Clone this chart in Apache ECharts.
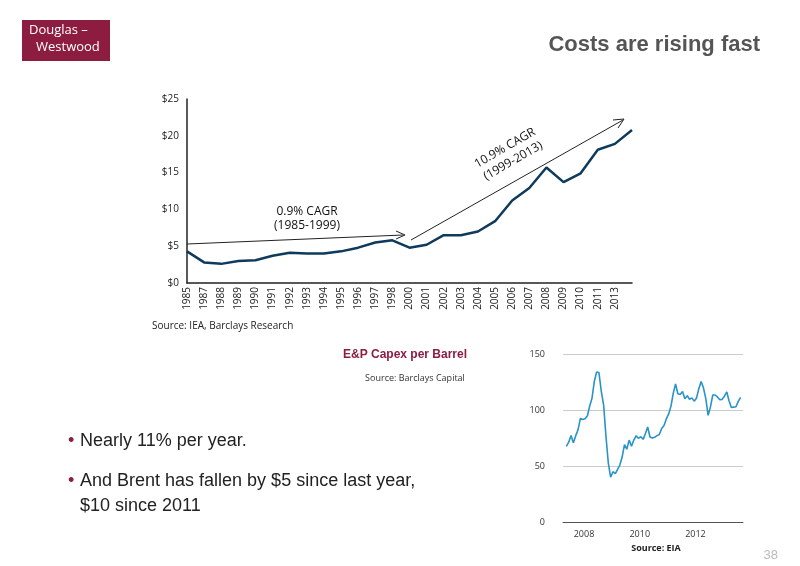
<!DOCTYPE html>
<html><head><meta charset="utf-8">
<script src="https://cdn.jsdelivr.net/npm/echarts@6/dist/echarts.min.js"></script>
<style>html,body{margin:0;padding:0;background:#fff}#c{width:800px;height:566px}</style>
</head><body><div id="c"></div>
<script>
const years = ['1985','1987','1988','1989','1990','1991','1992','1993','1994','1995','1996','1997','1998','2000','2001','2002','2003','2004','2005','2006','2007','2008','2009','2010','2011','2013',''];
const capex = [4.3,2.8,2.6,3.0,3.1,3.7,4.1,4.0,4.0,4.3,4.8,5.5,5.8,4.8,5.2,6.5,6.5,7.0,8.4,11.2,12.9,15.7,13.7,14.9,18.1,18.9,20.8];
const yTicks = ['$0','$5','$10','$15','$20','$25'];
const brentMonths = [];
(function(){let y=2007,m=5;for(let i=0;i<76;i++){brentMonths.push(y+'-'+String(m).padStart(2,'0')+'-15');m++;if(m>12){m=1;y++;}}})();
const brent = [67.5,71.3,77.2,70.8,77.1,82.3,92.5,91.5,
92.2,94.9,103.3,110.4,125.4,133.9,133.4,116.7,104.1,76.6,52.5,40.0,
44.9,43.1,46.8,50.9,58.0,69.1,65.0,73.1,67.7,73.2,77.0,74.7,
76.2,73.8,78.8,84.8,75.9,75.0,75.6,77.1,78.2,83.5,86.1,92.0,
96.5,103.7,114.6,123.3,114.5,113.9,116.5,110.1,112.8,109.6,110.8,107.9,
110.7,119.3,125.5,119.8,110.3,95.2,102.6,113.4,113.4,111.7,109.1,109.5,
112.3,116.1,108.5,102.3,102.6,102.9,107.7,111.3];

const chart = echarts.init(document.getElementById('c'));
const F = 'Open Sans';
chart.setOption({
  animation:false,
  grid:[{left:187,top:99,width:445,height:184},{left:563,top:354,width:180,height:168}],
  xAxis:[
    {type:'category',gridIndex:0,data:years,boundaryGap:false,
     axisLine:{lineStyle:{color:'#222',width:1.5}},axisTick:{show:false},
     axisLabel:{rotate:90,interval:0,fontSize:10,color:'#222',fontFamily:F,margin:4}},
    {type:'time',gridIndex:1,min:'2007-04-01',max:'2013-09-15',
     axisLine:{lineStyle:{color:'#555'}},axisTick:{show:false},splitLine:{show:false},
     axisLabel:{fontSize:9,color:'#333',fontFamily:F,formatter:v=>{const d=new Date(v);return (d.getMonth()===0&&d.getFullYear()%2===0)?String(d.getFullYear()):'';},interval:0},
     minInterval:365*24*3600*1000}
  ],
  yAxis:[
    {type:'value',gridIndex:0,min:0,max:25,interval:5,
     axisLine:{show:true,lineStyle:{color:'#222',width:1.5}},axisTick:{show:false},splitLine:{show:false},
     axisLabel:{fontSize:10,color:'#222',fontFamily:F,formatter:v=>yTicks[v/5]}},
    {type:'value',gridIndex:1,min:0,max:150,interval:50,
     axisLine:{show:false},axisTick:{show:false},
     splitLine:{lineStyle:{color:'#ccc'}},
     axisLabel:{fontSize:9,color:'#333',fontFamily:F,margin:18}}
  ],
  series:[
    {type:'line',xAxisIndex:0,yAxisIndex:0,data:capex,symbol:'none',lineStyle:{color:'#0e3a5c',width:2.5}},
    {type:'line',xAxisIndex:1,yAxisIndex:1,data:brentMonths.map((d,i)=>[d,brent[i]]),symbol:'none',lineStyle:{color:'#2a93c9',width:1.6}}
  ],
  graphic:[
    {type:'rect',shape:{x:22,y:20,width:88,height:41},style:{fill:'#8c1d40'}},
    {type:'text',x:29,y:24,style:{text:'Douglas –',fill:'#fff',font:'13px "Open Sans"'}},
    {type:'text',x:36,y:41,style:{text:'Westwood',fill:'#fff',font:'13px "Open Sans"'}},
    {type:'text',x:760,y:45,style:{text:'Costs are rising fast',fill:'#555',font:'bold 22px "Liberation Sans"',textAlign:'right',textVerticalAlign:'middle'}},
    {type:'line',shape:{x1:187,y1:244,x2:403,y2:235},style:{stroke:'#222',lineWidth:1}},
    {type:'polyline',shape:{points:[[396,231],[405,235],[396,239]]},style:{stroke:'#222',fill:null,lineWidth:1}},
    {type:'text',x:307,y:212,style:{text:'0.9% CAGR',fill:'#111',font:'12px "Open Sans"',textAlign:'center',textVerticalAlign:'middle'}},
    {type:'text',x:307,y:226,style:{text:'(1985-1999)',fill:'#111',font:'12px "Open Sans"',textAlign:'center',textVerticalAlign:'middle'}},
    {type:'line',shape:{x1:411,y1:240,x2:623,y2:120},style:{stroke:'#222',lineWidth:1}},
    {type:'polyline',shape:{points:[[613,120],[624,119],[618,128]]},style:{stroke:'#222',fill:null,lineWidth:1}},
    {type:'text',x:505,y:148,rotation:0.52,style:{text:'10.9% CAGR',fill:'#111',font:'12px "Open Sans"',textAlign:'center',textVerticalAlign:'middle'}},
    {type:'text',x:513,y:161,rotation:0.52,style:{text:'(1999-2013)',fill:'#111',font:'12px "Open Sans"',textAlign:'center',textVerticalAlign:'middle'}},
    {type:'text',x:152,y:326,style:{text:'Source: IEA, Barclays Research',fill:'#222',font:'10px "Open Sans"',textVerticalAlign:'middle'}},
    {type:'text',x:405,y:355,style:{text:'E&P Capex per Barrel',fill:'#8c1d40',font:'bold 12px "Liberation Sans"',textAlign:'center',textVerticalAlign:'middle'}},
    {type:'text',x:415,y:378,style:{text:'Source: Barclays Capital',fill:'#333',font:'9px "Open Sans"',textAlign:'center',textVerticalAlign:'middle'}},
    {type:'text',x:656,y:548,style:{text:'Source: EIA',fill:'#222',font:'bold 9px "Open Sans"',textAlign:'center',textVerticalAlign:'middle'}},
    {type:'text',x:68,y:441,style:{text:'•',fill:'#8c1d40',font:'18px "Liberation Sans"',textVerticalAlign:'middle'}},
    {type:'text',x:80,y:441,style:{text:'Nearly 11% per year.',fill:'#222',font:'18px "Liberation Sans"',textVerticalAlign:'middle'}},
    {type:'text',x:68,y:481,style:{text:'•',fill:'#8c1d40',font:'18px "Liberation Sans"',textVerticalAlign:'middle'}},
    {type:'text',x:80,y:481,style:{text:'And Brent has fallen by $5 since last year,',fill:'#222',font:'18px "Liberation Sans"',textVerticalAlign:'middle'}},
    {type:'text',x:80,y:506,style:{text:'$10 since 2011',fill:'#222',font:'18px "Liberation Sans"',textVerticalAlign:'middle'}},
    {type:'text',x:778,y:555,style:{text:'38',fill:'#bbb',font:'13px "Liberation Sans"',textAlign:'right',textVerticalAlign:'middle'}}
  ]
});
</script></body></html>
